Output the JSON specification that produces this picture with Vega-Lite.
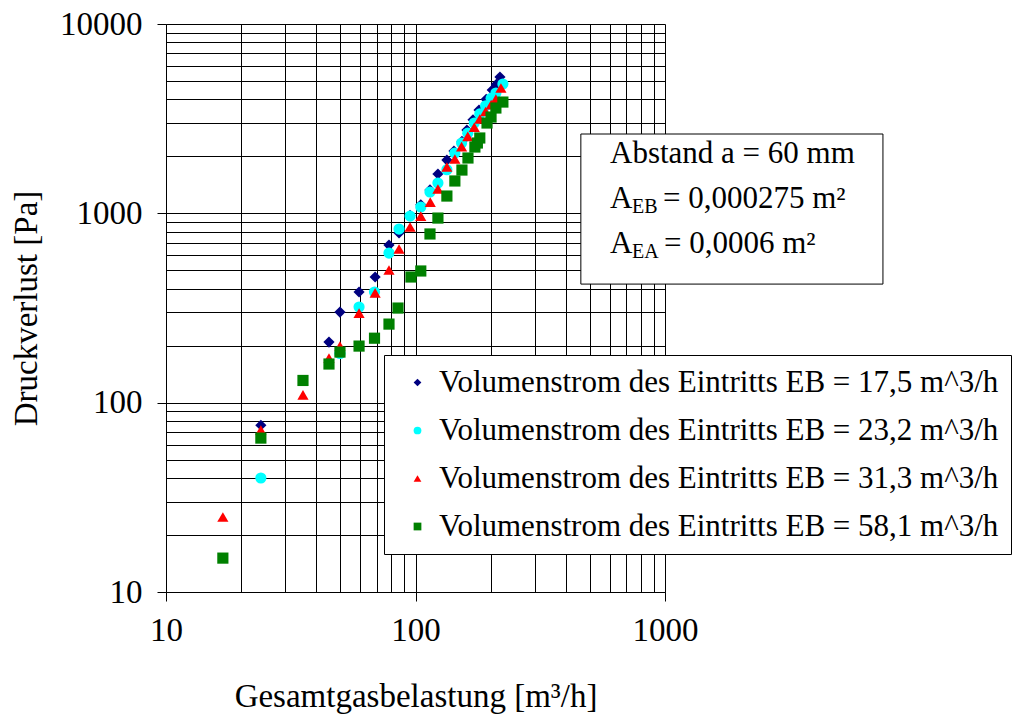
{
  "$schema": "https://vega.github.io/schema/vega-lite/v6.json",
  "width": 499,
  "height": 568,
  "autosize": {"type": "none"},
  "padding": {"left": 166, "top": 24, "right": 367, "bottom": 128},
  "background": "white",
  "config": {
    "font": "Liberation Serif",
    "view": {"stroke": null},
    "axis": {
      "labelFont": "Liberation Serif",
      "labelFontSize": 33,
      "labelColor": "black",
      "titleFont": "Liberation Serif",
      "titleFontSize": 33,
      "titleFontWeight": "normal",
      "titleColor": "black",
      "domainColor": "black",
      "domainWidth": 1,
      "gridColor": "black",
      "gridWidth": 1,
      "gridOpacity": 1,
      "tickColor": "black",
      "tickSize": 9,
      "labelOverlap": false,
      "labelBound": false,
      "labelFlush": false
    }
  },
  "layer": [
    {
      "data": {
        "values": [
          {"series": "Volumenstrom des Eintritts EB = 17,5 m^3/h", "gas": 24, "dp": 76},
          {"series": "Volumenstrom des Eintritts EB = 17,5 m^3/h", "gas": 45, "dp": 209},
          {"series": "Volumenstrom des Eintritts EB = 17,5 m^3/h", "gas": 49.8, "dp": 301},
          {"series": "Volumenstrom des Eintritts EB = 17,5 m^3/h", "gas": 59.4, "dp": 384},
          {"series": "Volumenstrom des Eintritts EB = 17,5 m^3/h", "gas": 68.9, "dp": 461},
          {"series": "Volumenstrom des Eintritts EB = 17,5 m^3/h", "gas": 78.3, "dp": 680},
          {"series": "Volumenstrom des Eintritts EB = 17,5 m^3/h", "gas": 85.9, "dp": 787},
          {"series": "Volumenstrom des Eintritts EB = 17,5 m^3/h", "gas": 95.1, "dp": 975},
          {"series": "Volumenstrom des Eintritts EB = 17,5 m^3/h", "gas": 105, "dp": 1110},
          {"series": "Volumenstrom des Eintritts EB = 17,5 m^3/h", "gas": 114.3, "dp": 1330},
          {"series": "Volumenstrom des Eintritts EB = 17,5 m^3/h", "gas": 123, "dp": 1613},
          {"series": "Volumenstrom des Eintritts EB = 17,5 m^3/h", "gas": 133.6, "dp": 1912},
          {"series": "Volumenstrom des Eintritts EB = 17,5 m^3/h", "gas": 142.6, "dp": 2134},
          {"series": "Volumenstrom des Eintritts EB = 17,5 m^3/h", "gas": 153.5, "dp": 2400},
          {"series": "Volumenstrom des Eintritts EB = 17,5 m^3/h", "gas": 160.7, "dp": 2754},
          {"series": "Volumenstrom des Eintritts EB = 17,5 m^3/h", "gas": 170, "dp": 3120},
          {"series": "Volumenstrom des Eintritts EB = 17,5 m^3/h", "gas": 179.7, "dp": 3513},
          {"series": "Volumenstrom des Eintritts EB = 17,5 m^3/h", "gas": 192, "dp": 4000},
          {"series": "Volumenstrom des Eintritts EB = 17,5 m^3/h", "gas": 203, "dp": 4480},
          {"series": "Volumenstrom des Eintritts EB = 17,5 m^3/h", "gas": 211, "dp": 4800},
          {"series": "Volumenstrom des Eintritts EB = 17,5 m^3/h", "gas": 218, "dp": 5250},
          {"series": "Volumenstrom des Eintritts EB = 23,2 m^3/h", "gas": 24, "dp": 40},
          {"series": "Volumenstrom des Eintritts EB = 23,2 m^3/h", "gas": 49.8, "dp": 182},
          {"series": "Volumenstrom des Eintritts EB = 23,2 m^3/h", "gas": 59.4, "dp": 320},
          {"series": "Volumenstrom des Eintritts EB = 23,2 m^3/h", "gas": 68.5, "dp": 384},
          {"series": "Volumenstrom des Eintritts EB = 23,2 m^3/h", "gas": 78.3, "dp": 617},
          {"series": "Volumenstrom des Eintritts EB = 23,2 m^3/h", "gas": 85.9, "dp": 826},
          {"series": "Volumenstrom des Eintritts EB = 23,2 m^3/h", "gas": 95.1, "dp": 967},
          {"series": "Volumenstrom des Eintritts EB = 23,2 m^3/h", "gas": 105, "dp": 1080},
          {"series": "Volumenstrom des Eintritts EB = 23,2 m^3/h", "gas": 114.3, "dp": 1296},
          {"series": "Volumenstrom des Eintritts EB = 23,2 m^3/h", "gas": 123, "dp": 1446},
          {"series": "Volumenstrom des Eintritts EB = 23,2 m^3/h", "gas": 133.6, "dp": 1700},
          {"series": "Volumenstrom des Eintritts EB = 23,2 m^3/h", "gas": 143.8, "dp": 2082},
          {"series": "Volumenstrom des Eintritts EB = 23,2 m^3/h", "gas": 153, "dp": 2350},
          {"series": "Volumenstrom des Eintritts EB = 23,2 m^3/h", "gas": 162, "dp": 2650},
          {"series": "Volumenstrom des Eintritts EB = 23,2 m^3/h", "gas": 172, "dp": 3000},
          {"series": "Volumenstrom des Eintritts EB = 23,2 m^3/h", "gas": 181, "dp": 3350},
          {"series": "Volumenstrom des Eintritts EB = 23,2 m^3/h", "gas": 191, "dp": 3700},
          {"series": "Volumenstrom des Eintritts EB = 23,2 m^3/h", "gas": 201, "dp": 4050},
          {"series": "Volumenstrom des Eintritts EB = 23,2 m^3/h", "gas": 210, "dp": 4320},
          {"series": "Volumenstrom des Eintritts EB = 23,2 m^3/h", "gas": 224, "dp": 4820},
          {"series": "Volumenstrom des Eintritts EB = 31,3 m^3/h", "gas": 16.9, "dp": 24.9},
          {"series": "Volumenstrom des Eintritts EB = 31,3 m^3/h", "gas": 24, "dp": 71.6},
          {"series": "Volumenstrom des Eintritts EB = 31,3 m^3/h", "gas": 35.4, "dp": 110},
          {"series": "Volumenstrom des Eintritts EB = 31,3 m^3/h", "gas": 45, "dp": 172},
          {"series": "Volumenstrom des Eintritts EB = 31,3 m^3/h", "gas": 49.8, "dp": 199},
          {"series": "Volumenstrom des Eintritts EB = 31,3 m^3/h", "gas": 59.4, "dp": 297},
          {"series": "Volumenstrom des Eintritts EB = 31,3 m^3/h", "gas": 68.9, "dp": 380},
          {"series": "Volumenstrom des Eintritts EB = 31,3 m^3/h", "gas": 78.3, "dp": 502},
          {"series": "Volumenstrom des Eintritts EB = 31,3 m^3/h", "gas": 85.9, "dp": 648},
          {"series": "Volumenstrom des Eintritts EB = 31,3 m^3/h", "gas": 95.1, "dp": 847},
          {"series": "Volumenstrom des Eintritts EB = 31,3 m^3/h", "gas": 105, "dp": 967},
          {"series": "Volumenstrom des Eintritts EB = 31,3 m^3/h", "gas": 114.6, "dp": 1147},
          {"series": "Volumenstrom des Eintritts EB = 31,3 m^3/h", "gas": 123, "dp": 1344},
          {"series": "Volumenstrom des Eintritts EB = 31,3 m^3/h", "gas": 133.6, "dp": 1757},
          {"series": "Volumenstrom des Eintritts EB = 31,3 m^3/h", "gas": 143.8, "dp": 1936},
          {"series": "Volumenstrom des Eintritts EB = 31,3 m^3/h", "gas": 153, "dp": 2250},
          {"series": "Volumenstrom des Eintritts EB = 31,3 m^3/h", "gas": 162, "dp": 2550},
          {"series": "Volumenstrom des Eintritts EB = 31,3 m^3/h", "gas": 172, "dp": 2850},
          {"series": "Volumenstrom des Eintritts EB = 31,3 m^3/h", "gas": 181, "dp": 3150},
          {"series": "Volumenstrom des Eintritts EB = 31,3 m^3/h", "gas": 191, "dp": 3450},
          {"series": "Volumenstrom des Eintritts EB = 31,3 m^3/h", "gas": 201, "dp": 3750},
          {"series": "Volumenstrom des Eintritts EB = 31,3 m^3/h", "gas": 210, "dp": 4015},
          {"series": "Volumenstrom des Eintritts EB = 31,3 m^3/h", "gas": 220, "dp": 4590},
          {"series": "Volumenstrom des Eintritts EB = 58,1 m^3/h", "gas": 16.9, "dp": 15.1},
          {"series": "Volumenstrom des Eintritts EB = 58,1 m^3/h", "gas": 24, "dp": 65},
          {"series": "Volumenstrom des Eintritts EB = 58,1 m^3/h", "gas": 35.4, "dp": 131},
          {"series": "Volumenstrom des Eintritts EB = 58,1 m^3/h", "gas": 45, "dp": 160},
          {"series": "Volumenstrom des Eintritts EB = 58,1 m^3/h", "gas": 49.8, "dp": 185},
          {"series": "Volumenstrom des Eintritts EB = 58,1 m^3/h", "gas": 59.4, "dp": 199},
          {"series": "Volumenstrom des Eintritts EB = 58,1 m^3/h", "gas": 68.5, "dp": 219},
          {"series": "Volumenstrom des Eintritts EB = 58,1 m^3/h", "gas": 78.3, "dp": 260},
          {"series": "Volumenstrom des Eintritts EB = 58,1 m^3/h", "gas": 85.1, "dp": 316},
          {"series": "Volumenstrom des Eintritts EB = 58,1 m^3/h", "gas": 95.9, "dp": 461},
          {"series": "Volumenstrom des Eintritts EB = 58,1 m^3/h", "gas": 105, "dp": 496},
          {"series": "Volumenstrom des Eintritts EB = 58,1 m^3/h", "gas": 114.3, "dp": 778},
          {"series": "Volumenstrom des Eintritts EB = 58,1 m^3/h", "gas": 123, "dp": 944},
          {"series": "Volumenstrom des Eintritts EB = 58,1 m^3/h", "gas": 133.6, "dp": 1234},
          {"series": "Volumenstrom des Eintritts EB = 58,1 m^3/h", "gas": 143.8, "dp": 1482},
          {"series": "Volumenstrom des Eintritts EB = 58,1 m^3/h", "gas": 153.5, "dp": 1693},
          {"series": "Volumenstrom des Eintritts EB = 58,1 m^3/h", "gas": 162.3, "dp": 1960},
          {"series": "Volumenstrom des Eintritts EB = 58,1 m^3/h", "gas": 173, "dp": 2240},
          {"series": "Volumenstrom des Eintritts EB = 58,1 m^3/h", "gas": 177, "dp": 2352},
          {"series": "Volumenstrom des Eintritts EB = 58,1 m^3/h", "gas": 181, "dp": 2500},
          {"series": "Volumenstrom des Eintritts EB = 58,1 m^3/h", "gas": 193.5, "dp": 2999},
          {"series": "Volumenstrom des Eintritts EB = 58,1 m^3/h", "gas": 200.8, "dp": 3225},
          {"series": "Volumenstrom des Eintritts EB = 58,1 m^3/h", "gas": 210, "dp": 3600},
          {"series": "Volumenstrom des Eintritts EB = 58,1 m^3/h", "gas": 224, "dp": 3870}
        ]
      },
      "mark": {"type": "point", "filled": true, "opacity": 1, "size": 125},
      "encoding": {
        "x": {
          "field": "gas",
          "type": "quantitative",
          "scale": {"type": "log", "domain": [10, 1000], "nice": false},
          "axis": {
            "title": "Gesamtgasbelastung [m³/h]",
            "values": [10, 20, 30, 40, 50, 60, 70, 80, 90, 100, 200, 300, 400, 500, 600, 700, 800, 900, 1000],
            "labelExpr": "indexof([10, 100, 1000], datum.value) >= 0 ? '' + datum.value : ''",
            "tickOpacity": {"condition": {"test": "indexof([10, 100, 1000], datum.value) >= 0", "value": 1}, "value": 0},
            "grid": true,
            "labelPadding": 13,
            "titlePadding": 33
          }
        },
        "y": {
          "field": "dp",
          "type": "quantitative",
          "scale": {"type": "log", "domain": [10, 10000], "nice": false},
          "axis": {
            "title": "Druckverlust [Pa]",
            "values": [10, 20, 30, 40, 50, 60, 70, 80, 90, 100, 200, 300, 400, 500, 600, 700, 800, 900, 1000, 2000, 3000, 4000, 5000, 6000, 7000, 8000, 9000, 10000],
            "labelExpr": "indexof([10, 100, 1000, 10000], datum.value) >= 0 ? '' + datum.value : ''",
            "tickOpacity": {"condition": {"test": "indexof([10, 100, 1000, 10000], datum.value) >= 0", "value": 1}, "value": 0},
            "grid": true,
            "labelPadding": 15,
            "titlePadding": 16
          }
        },
        "color": {
          "field": "series",
          "type": "nominal",
          "scale": {
            "domain": ["Volumenstrom des Eintritts EB = 17,5 m^3/h", "Volumenstrom des Eintritts EB = 23,2 m^3/h", "Volumenstrom des Eintritts EB = 31,3 m^3/h", "Volumenstrom des Eintritts EB = 58,1 m^3/h"],
            "range": ["#000080", "#00FFFF", "#FF0000", "#008000"]
          },
          "legend": {
            "orient": "none",
            "legendX": 218,
            "legendY": 331,
            "title": null,
            "labelFont": "Liberation Serif",
            "labelFontSize": 31,
            "labelColor": "black",
            "labelLimit": 0,
            "labelExpr": "datum.label + '  '",
            "symbolSize": 60,
            "padding": 12,
            "rowPadding": 16,
            "strokeColor": "black",
            "fillColor": "white",
            "symbolOffset": 6,
            "labelOffset": 6,
            "symbolStrokeWidth": 0
          }
        },
        "shape": {
          "field": "series",
          "type": "nominal",
          "scale": {
            "domain": ["Volumenstrom des Eintritts EB = 17,5 m^3/h", "Volumenstrom des Eintritts EB = 23,2 m^3/h", "Volumenstrom des Eintritts EB = 31,3 m^3/h", "Volumenstrom des Eintritts EB = 58,1 m^3/h"],
            "range": ["diamond", "circle", "triangle-up", "square"]
          },
          "legend": {
            "orient": "none",
            "legendX": 218,
            "legendY": 331,
            "title": null,
            "labelFont": "Liberation Serif",
            "labelFontSize": 31,
            "labelColor": "black",
            "labelLimit": 0,
            "labelExpr": "datum.label + '  '",
            "symbolSize": 60,
            "padding": 12,
            "rowPadding": 16,
            "strokeColor": "black",
            "fillColor": "white",
            "symbolOffset": 6,
            "labelOffset": 6,
            "symbolStrokeWidth": 0
          }
        }
      }
    },
    {
      "data": {"values": [{}]},
      "mark": {"type": "rect", "fill": "white", "stroke": "black", "strokeWidth": 1},
      "encoding": {
        "x": {"datum": 460, "type": "quantitative"},
        "x2": {"datum": 7474},
        "y": {"datum": 2624, "type": "quantitative"},
        "y2": {"datum": 423}
      }
    },
    {
      "data": {"values": [{}]},
      "mark": {"type": "text", "font": "Liberation Serif", "fontSize": 31, "align": "left", "baseline": "alphabetic", "color": "black"},
      "encoding": {
        "x": {"datum": 602, "type": "quantitative"},
        "y": {"datum": 1844, "type": "quantitative"},
        "text": {"value": "Abstand a = 60 mm"}
      }
    },
    {
      "data": {"values": [{}]},
      "mark": {"type": "text", "font": "Liberation Serif", "fontSize": 31, "align": "left", "baseline": "alphabetic", "color": "black"},
      "encoding": {
        "x": {"datum": 602, "type": "quantitative"},
        "y": {"datum": 1067, "type": "quantitative"},
        "text": {"value": "A"}
      }
    },
    {
      "data": {"values": [{}]},
      "mark": {"type": "text", "font": "Liberation Serif", "fontSize": 20, "align": "left", "baseline": "alphabetic", "color": "black", "dx": 22, "dy": 5},
      "encoding": {
        "x": {"datum": 602, "type": "quantitative"},
        "y": {"datum": 1067, "type": "quantitative"},
        "text": {"value": "EB"}
      }
    },
    {
      "data": {"values": [{}]},
      "mark": {"type": "text", "font": "Liberation Serif", "fontSize": 31, "align": "left", "baseline": "alphabetic", "color": "black", "dx": 53},
      "encoding": {
        "x": {"datum": 602, "type": "quantitative"},
        "y": {"datum": 1067, "type": "quantitative"},
        "text": {"value": "= 0,000275 m²"}
      }
    },
    {
      "data": {"values": [{}]},
      "mark": {"type": "text", "font": "Liberation Serif", "fontSize": 31, "align": "left", "baseline": "alphabetic", "color": "black"},
      "encoding": {
        "x": {"datum": 602, "type": "quantitative"},
        "y": {"datum": 617, "type": "quantitative"},
        "text": {"value": "A"}
      }
    },
    {
      "data": {"values": [{}]},
      "mark": {"type": "text", "font": "Liberation Serif", "fontSize": 20, "align": "left", "baseline": "alphabetic", "color": "black", "dx": 22, "dy": 5},
      "encoding": {
        "x": {"datum": 602, "type": "quantitative"},
        "y": {"datum": 617, "type": "quantitative"},
        "text": {"value": "EA"}
      }
    },
    {
      "data": {"values": [{}]},
      "mark": {"type": "text", "font": "Liberation Serif", "fontSize": 31, "align": "left", "baseline": "alphabetic", "color": "black", "dx": 54},
      "encoding": {
        "x": {"datum": 602, "type": "quantitative"},
        "y": {"datum": 617, "type": "quantitative"},
        "text": {"value": "= 0,0006 m²"}
      }
    }
  ]
}
